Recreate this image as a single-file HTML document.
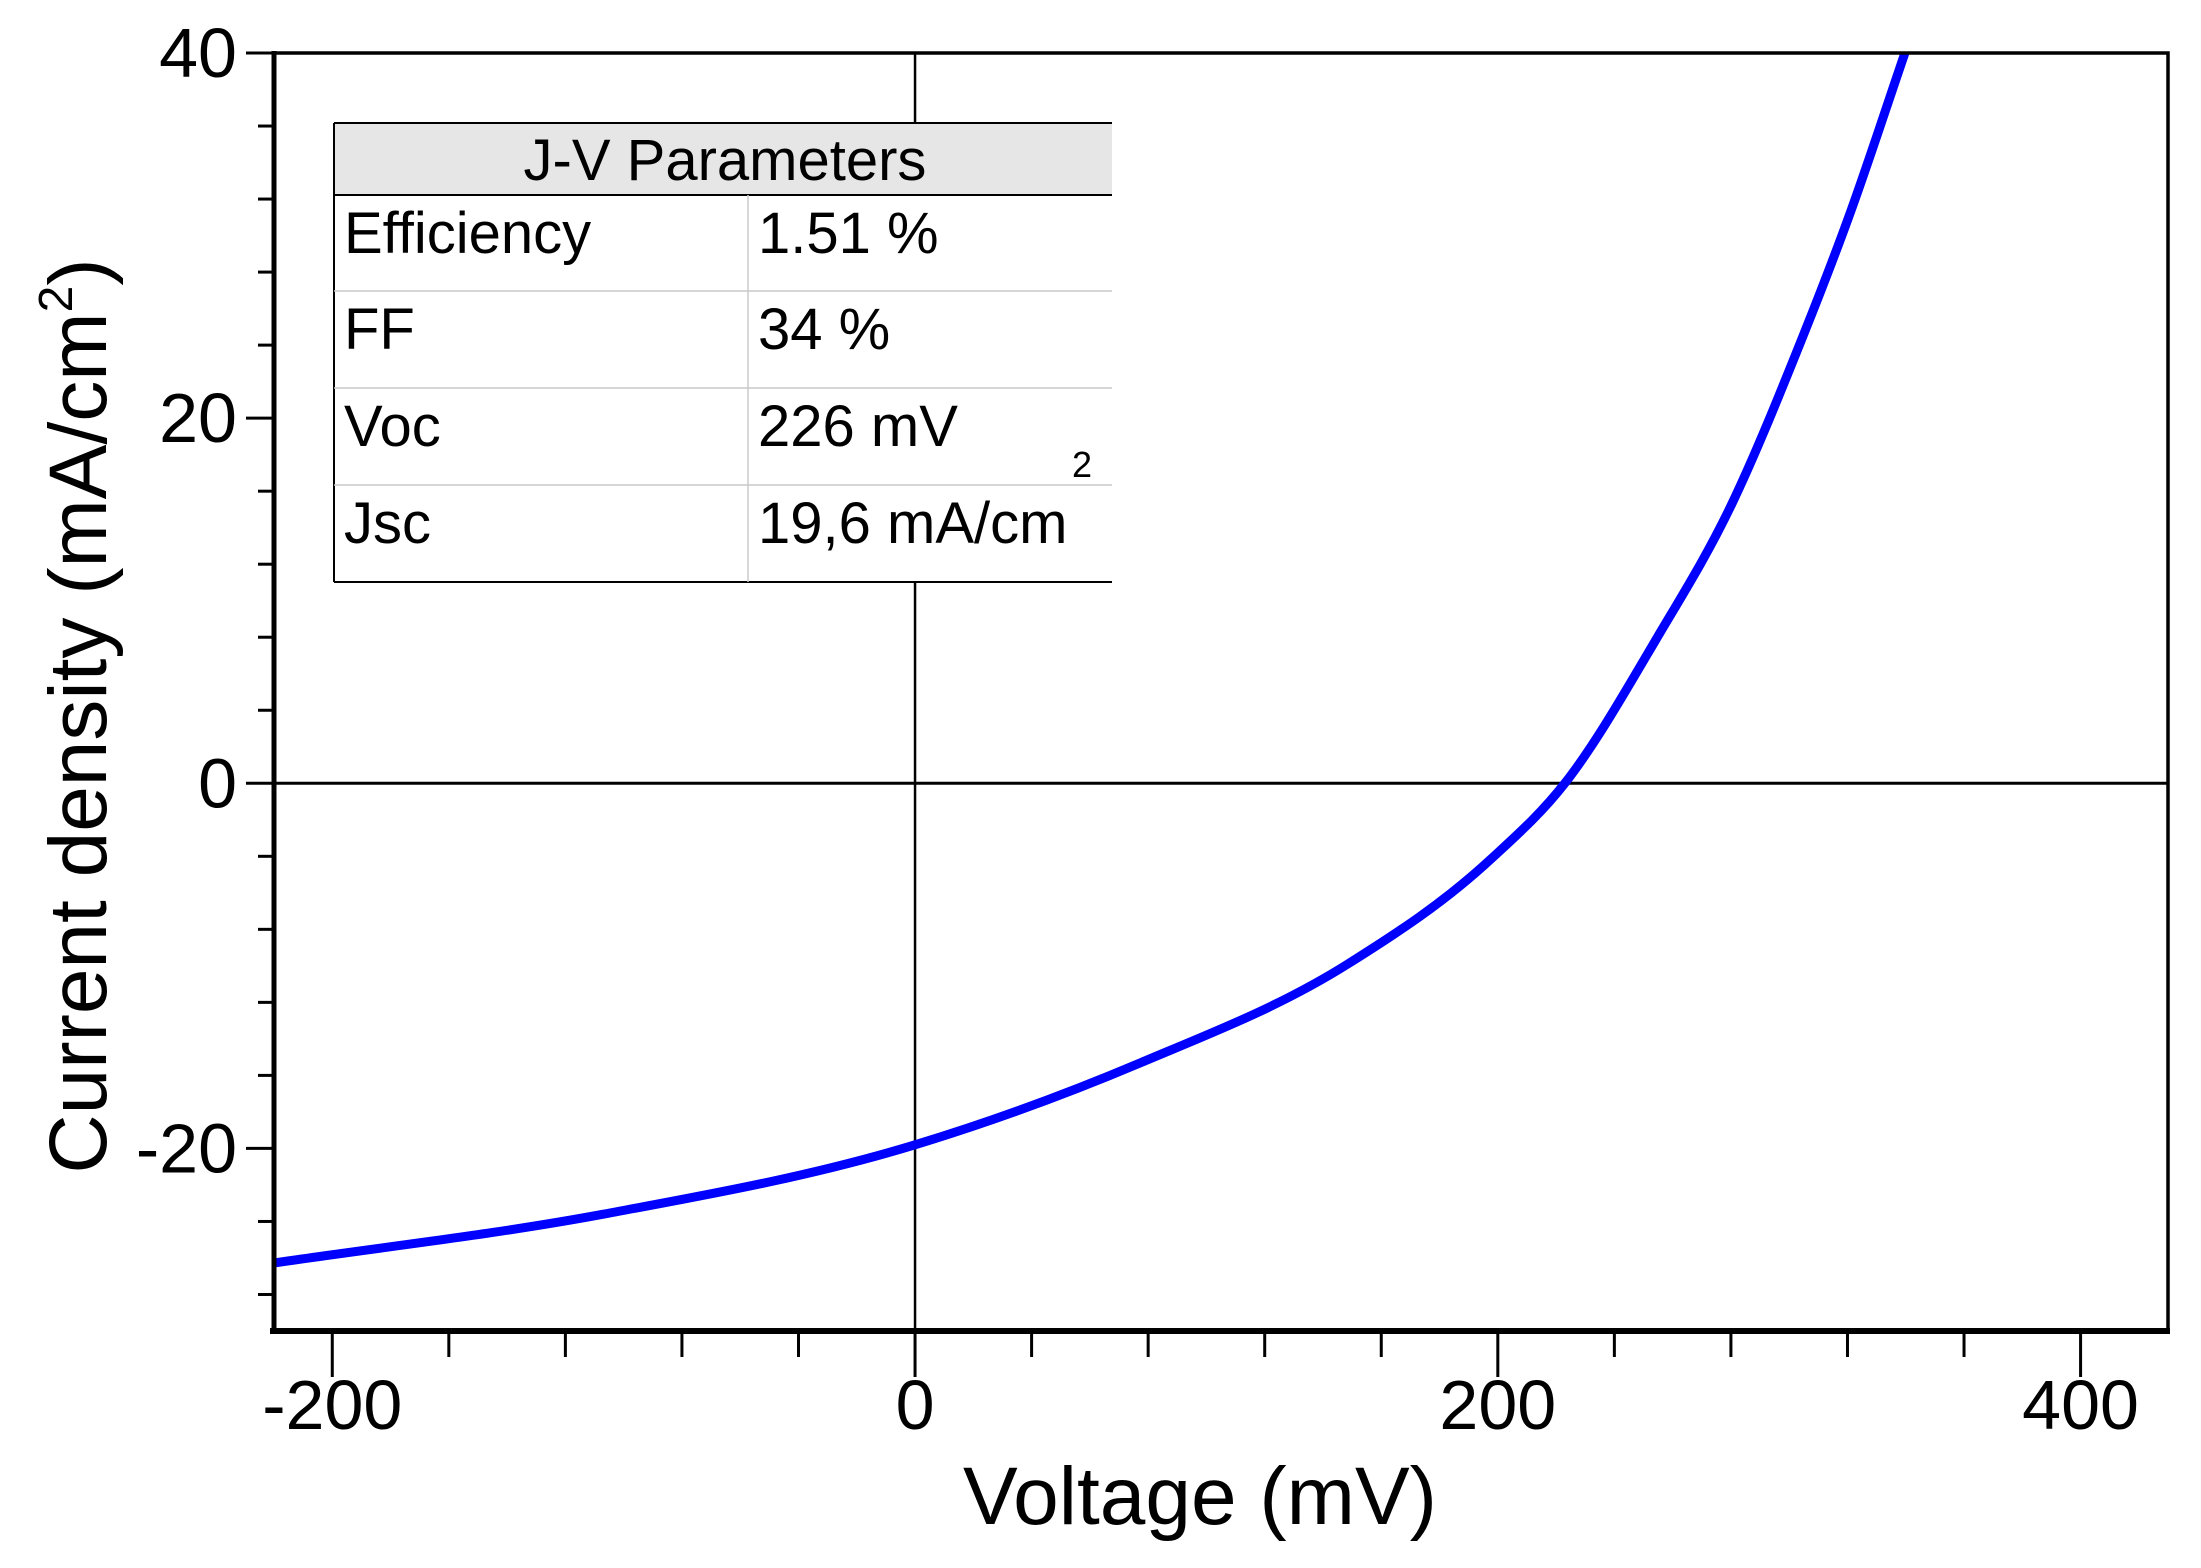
<!DOCTYPE html>
<html><head><meta charset="utf-8"><style>
html,body{margin:0;padding:0;background:#fff}
svg text{font-family:"Liberation Sans",Arial,sans-serif}
</style></head><body>
<svg id="chart" width="2201" height="1563" viewBox="0 0 2201 1563" xmlns="http://www.w3.org/2000/svg">
<rect width="2201" height="1563" fill="#fff"/>
<g id="plot"></g>
</svg>
<script>
const voltage = [-221,-107,0,77.5,148.5,198,223,254,280.3,303,320.4,339.7];
const current = [-26.3,-23.6,-19.8,-15.3,-9.9,-4.1,0,7.8,15.3,23.8,31.0,40];
const xMajorTicks = [-200,0,200,400];
const xTickLabels = ["-200","0","200","400"];
const yMajorTicks = [-20,0,20,40];
const yTickLabels = ["-20","0","20","40"];

const X0=274,X1=2168,Y0=1331,Y1=53;
const xMin=-220,xMax=430,yMin=-30,yMax=40;
function sx(v){return X0+(v-xMin)/(xMax-xMin)*(X1-X0);}
function sy(v){return Y0-(v-yMin)/(yMax-yMin)*(Y0-Y1);}
const NS="http://www.w3.org/2000/svg";
const g=document.getElementById('plot');
function mk(tag,attrs,parent){const e=document.createElementNS(NS,tag);for(const k in attrs)e.setAttribute(k,attrs[k]);(parent||g).appendChild(e);return e;}

let zl=mk('line',{x1:sx(0),x2:sx(0),y1:Y1,y2:Y0,stroke:'#000','stroke-width':2.5});


let zh=mk('line',{x1:X0,x2:X1,y1:sy(0),y2:sy(0),stroke:'#000','stroke-width':3});



const n=voltage.length, dk=[], m=[];
for(let i=0;i<n-1;i++)dk.push((current[i+1]-current[i])/(voltage[i+1]-voltage[i]));
m[0]=dk[0];m[n-1]=dk[n-2];
for(let i=1;i<n-1;i++){const h0=voltage[i]-voltage[i-1],h1=voltage[i+1]-voltage[i];m[i]=(dk[i-1]*h1+dk[i]*h0)/(h0+h1);}
let d='M'+sx(voltage[0]).toFixed(1)+','+sy(current[0]).toFixed(1);
for(let i=0;i<n-1;i++){
  const h=voltage[i+1]-voltage[i];
  const c1v=voltage[i]+h/3,c1j=current[i]+m[i]*h/3;
  const c2v=voltage[i+1]-h/3,c2j=current[i+1]-m[i+1]*h/3;
  d+='C'+sx(c1v).toFixed(1)+','+sy(c1j).toFixed(1)+' '+sx(c2v).toFixed(1)+','+sy(c2j).toFixed(1)+' '+sx(voltage[i+1]).toFixed(1)+','+sy(current[i+1]).toFixed(1);
}
const clip=mk('clipPath',{id:'pc'});mk('rect',{x:X0,y:Y1,width:X1-X0,height:Y0-Y1},clip);
let cv=mk('path',{d:d,fill:'none',stroke:'#0000ff','stroke-width':9,'stroke-linejoin':'round','clip-path':'url(#pc)'});



let fr=mk('rect',{x:X0,y:Y1,width:X1-X0,height:Y0-Y1,fill:'none',stroke:'#000','stroke-width':3.5});


mk('line',{x1:X0-4,x2:X1+2,y1:Y0,y2:Y0,stroke:'#000','stroke-width':6});
mk('line',{x1:X0,x2:X0,y1:Y1-2,y2:Y0+3,stroke:'#000','stroke-width':5});

for(let v=-200;v<=430;v+=40){
  const maj=(v%200===0);
  mk('line',{x1:sx(v),x2:sx(v),y1:Y0,y2:Y0+(maj?46:26),stroke:'#000','stroke-width':3});
}
xMajorTicks.forEach((v,i)=>{
  const t=mk('text',{x:sx(v),y:1429,'text-anchor':'middle','font-size':70,fill:'#000'});
  t.textContent=xTickLabels[i];
  
  
});
for(let v=-28;v<=40;v+=4){
  const maj=(v%20===0);
  mk('line',{x1:X0,x2:X0-(maj?28:16),y1:sy(v),y2:sy(v),stroke:'#000','stroke-width':3});
}
yMajorTicks.forEach((v,i)=>{
  const t=mk('text',{x:237,y:sy(v)+24,'text-anchor':'end','font-size':70,fill:'#000'});
  t.textContent=yTickLabels[i];
  
  
});

let xt=mk('text',{x:1200,y:1524,'text-anchor':'middle','font-size':82,fill:'#000'});
xt.textContent='Voltage (mV)';


let yt=mk('text',{x:0,y:0,'text-anchor':'middle','font-size':82,fill:'#000',transform:'translate(106,716) rotate(-90)'});
yt.innerHTML='Current density (mA/cm<tspan dy="-34" font-size="48">2</tspan><tspan dy="34">)</tspan>';



const tg=mk('g',{});


const TL=334,TR=1112,TT=123,HB=195,TB=582,CD=748;
mk('rect',{x:TL,y:TT,width:TR-TL,height:TB-TT,fill:'#fff'},tg);
mk('rect',{x:TL,y:TT,width:TR-TL,height:HB-TT,fill:'#e6e6e6'},tg);
mk('line',{x1:TL,x2:TR,y1:TT,y2:TT,stroke:'#000','stroke-width':2},tg);
mk('line',{x1:TL,x2:TR,y1:HB,y2:HB,stroke:'#000','stroke-width':2},tg);
mk('line',{x1:TL,x2:TR,y1:TB,y2:TB,stroke:'#000','stroke-width':2},tg);
mk('line',{x1:TL,x2:TL,y1:TT,y2:TB,stroke:'#000','stroke-width':2},tg);
mk('line',{x1:CD,x2:CD,y1:HB,y2:TB,stroke:'#ccc','stroke-width':1.5},tg);
const rowsY=[HB,291,388,485,TB];
[291,388,485].forEach(y=>mk('line',{x1:TL,x2:TR,y1:y,y2:y,stroke:'#c8c8c8','stroke-width':1.5},tg));
let ht=mk('text',{x:725,y:180,'text-anchor':'middle','font-size':58,fill:'#000'},tg);
ht.textContent='J-V Parameters';


const names=['Efficiency','FF','Voc','Jsc'];
const vals=['1.51 %','34 %','226 mV','19,6 mA/cm'];
for(let i=0;i<4;i++){
  const y=rowsY[i]+58;
  const a=mk('text',{x:344,y:y,'font-size':58,fill:'#000'},tg);a.textContent=names[i];
  
  
  const b=mk('text',{x:758,y:y,'font-size':58,fill:'#000'},tg);b.textContent=vals[i];
  
  
}
let sp=mk('text',{x:1072,y:477,'font-size':36,fill:'#000'},tg);sp.textContent='2';


</script>
</body></html>
